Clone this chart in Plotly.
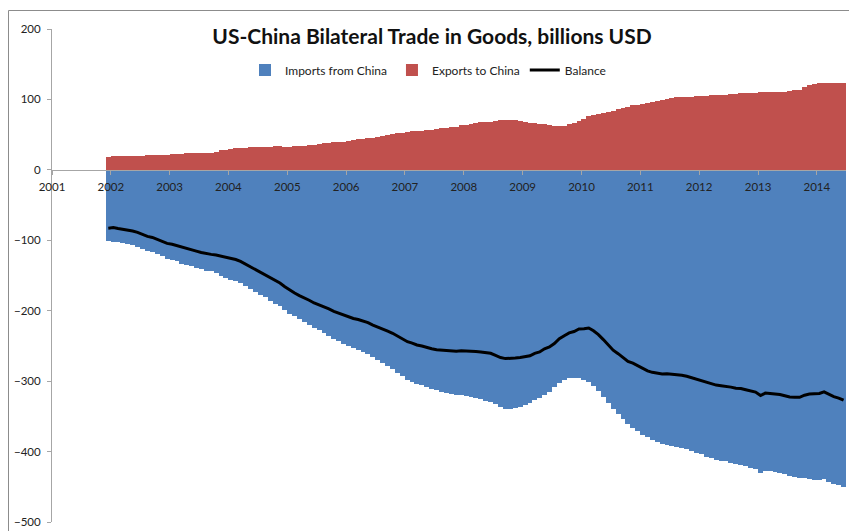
import plotly.graph_objects as go
import pandas as pd

# Monthly series, Dec 2001 .. Jun 2014 (12-month rolling sums, billions USD)
start_month = "2001-12-01"
n_months = 151

imports_from_china = [
    -101.7,
    -102, -103, -104, -105, -107, -109, -112, -115, -117, -120, -123, -126,
    -128, -130, -133, -135, -137, -139, -141, -143, -144, -147, -150, -153,
    -156, -158, -161, -165, -169, -173, -177, -181, -186, -190, -194, -199,
    -204, -208, -212, -216, -220, -224, -228, -232, -236, -240, -243, -247,
    -250, -253, -256, -259, -262, -266, -270, -274, -278, -283, -288, -293,
    -298, -301, -304, -306, -309, -311, -313, -315, -317, -318, -319, -320,
    -321, -322, -324, -326, -328, -329, -333, -337, -339, -339, -338, -336,
    -334, -331, -327, -324, -319, -315, -309, -302, -298, -296, -296, -296,
    -298, -301, -307, -314, -322, -331, -340, -347, -354, -361, -366, -371,
    -376, -380, -384, -387, -389, -390, -392, -393, -395, -397, -399, -402,
    -404, -407, -409, -412, -413, -414, -416, -418, -419, -421, -423, -425,
    -431, -428, -428, -429, -430, -432, -434, -436, -437, -438, -439, -440,
    -441, -439, -443, -446, -448, -451,
]

exports_to_china = [
    18.9,
    20.0, 19.6, 19.8, 20.0, 20.1, 20.2, 20.3, 20.5, 21.0, 21.3, 21.4, 21.6,
    22.3, 22.6, 23.2, 23.4, 23.5, 23.6, 23.7, 23.8, 24.0, 26.0, 27.5, 28.4,
    29.5, 30.7, 31.0, 31.2, 32.0, 32.1, 32.3, 32.5, 33.0, 34.0, 33.3, 33.1,
    33.1, 33.2, 33.5, 34.5, 34.9, 35.0, 36.5, 37.8, 38.5, 39.0, 39.6, 40.2,
    41.5, 42.0, 43.5, 44.5, 45.0, 45.5, 47.0, 48.2, 49.0, 51.0, 52.0, 53.0,
    54.0, 55.0, 55.3, 55.8, 56.5, 57.0, 57.7, 59.0, 60.0, 60.5, 61.5, 63.0,
    64.0, 64.8, 66.0, 67.5, 68.0, 68.5, 69.5, 70.5, 71.0, 71.0, 70.8, 69.5,
    68.6, 67.0, 66.5, 65.5, 65.0, 63.5, 62.4, 62.2, 62.5, 64.5, 66.5, 70.0,
    72.5, 76.5, 78.5, 80.0, 81.0, 82.5, 84.0, 86.0, 87.5, 89.0, 91.5, 92.5,
    93.5, 94.6, 96.5, 98.0, 99.0, 100.5, 102.0, 103.0, 103.5, 104.0, 104.0, 104.2,
    104.5, 105.5, 106.0, 106.4, 106.6, 107.0, 107.5, 108.0, 108.5, 108.8, 109.0, 109.5,
    110.5, 111.0, 110.5, 111.0, 111.0, 111.2, 111.5, 113.0, 114.0, 118.0, 120.6, 122.0,
    123.5, 123.8, 124.0, 124.0, 124.0, 124.0,
]

# Trade balance = exports - |imports|
balance = [round(e + i, 1) for e, i in zip(exports_to_china, imports_from_china)]

year_ticks = [str(y) for y in range(2001, 2015)]

edges = pd.date_range(start_month, periods=n_months + 1, freq="MS")
x_start = [d.strftime("%Y-%m-%d") for d in edges[:-1]]
widths = [(edges[k + 1] - edges[k]).total_seconds() * 1000 for k in range(n_months)]
x_mid = [(edges[k] + (edges[k + 1] - edges[k]) / 2).strftime("%Y-%m-%d %H:%M")
         for k in range(n_months)]

FONT = "Lato"
BLUE = "#4F81BD"
RED = "#C0504D"

fig = go.Figure()
fig.add_trace(go.Bar(x=x_start, y=imports_from_china, width=widths, offset=0,
                     name="Imports from China",
                     marker=dict(color=BLUE, line=dict(width=0))))
fig.add_trace(go.Bar(x=x_start, y=exports_to_china, width=widths, offset=0,
                     name="Exports to China",
                     marker=dict(color=RED, line=dict(width=0))))
fig.add_trace(go.Scatter(x=x_mid, y=balance, mode="lines", name="Balance",
                         line=dict(color="black", width=3)))

# layout geometry
W, H = 849, 531
ml, mr, mt, mb = 52, 3, 29, 9
pw = W - ml - mr
ph = H - mt - mb

def px_x(p):
    return (p - ml) / pw

def px_y(p):
    return 1 - (p - mt) / ph

fig.update_layout(
    width=W, height=H,
    margin=dict(l=ml, r=mr, t=mt, b=mb, pad=0),
    paper_bgcolor="white", plot_bgcolor="white",
    barmode="relative", bargap=0,
    font=dict(family=FONT, size=11, color="#222222"),
    title=dict(text="<b>US-China Bilateral Trade in Goods, billions USD</b>",
               x=px_x(432), y=px_y(37), xref="paper", yref="paper",
               xanchor="center", yanchor="middle",
               font=dict(family=FONT, size=21, color="#111111")),
    legend=dict(orientation="h", x=px_x(428), y=px_y(70),
                xanchor="center", yanchor="middle",
                font=dict(family=FONT, size=12, color="#222222"),
                bgcolor="rgba(0,0,0,0)", itemwidth=30, tracegroupgap=0),
    showlegend=True,
    xaxis=dict(type="date", range=["2001-01-01", "2014-07-01"],
               tickvals=[f"{y}-01-01" for y in year_ticks], ticktext=year_ticks,
               anchor="free", position=500 / 700,
               showline=True, linecolor="#A6A6A6", linewidth=1,
               ticks="outside", ticklen=4, tickcolor="#A6A6A6",
               showgrid=False, zeroline=False,
               tickfont=dict(family=FONT, size=11.5, color="#222222"),
               ticklabelstandoff=2, layer="above traces"),
    yaxis=dict(range=[-500, 200], dtick=100, tick0=0,
               showline=True, linecolor="#A6A6A6", linewidth=1,
               ticks="outside", ticklen=4, tickcolor="#A6A6A6",
               showgrid=False, zeroline=False,
               tickfont=dict(family=FONT, size=11.5, color="#222222"),
               ticklabelstandoff=4),
    shapes=[
        dict(type="line", xref="paper", yref="paper",
             x0=px_x(8.5), x1=px_x(8.5), y0=px_y(10.5), y1=px_y(H + 2),
             line=dict(color="#8C8C8C", width=1)),
        dict(type="line", xref="paper", yref="paper",
             x0=px_x(8.5), x1=px_x(W + 2), y0=px_y(10.5), y1=px_y(10.5),
             line=dict(color="#8C8C8C", width=1)),
    ],
)

fig.write_html("out.html")
